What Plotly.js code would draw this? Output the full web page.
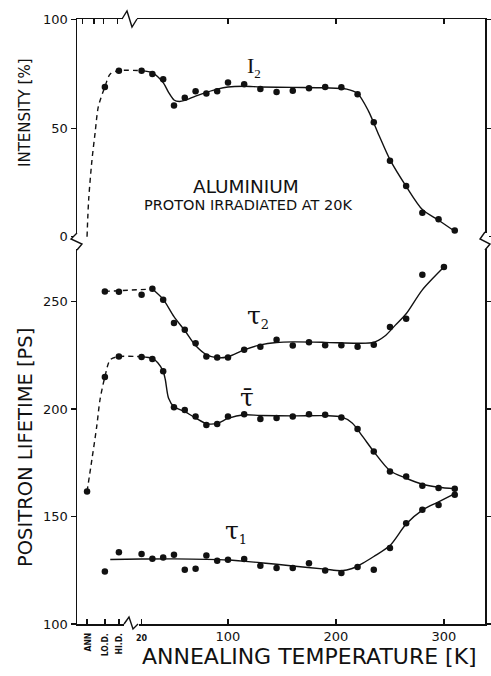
<!DOCTYPE html>
<html>
<head>
<meta charset="utf-8">
<script src="https://cdn.plot.ly/plotly-3.0.1.min.js"></script>
<style>html,body{margin:0;padding:0;background:#fff;}</style>
</head>
<body>
<div id="chart" style="width:491px;height:676px;"></div>
<script>
// ---- category / tick data ----
const specialLabels = ['ANN', 'LO.D.', 'HI.D.'];
const specialT = [-30.5, -14, -1];
const numTickVals = [20, 100, 200, 300];
const numTickText = ['<span style="font-size:8px;font-weight:bold">20</span>', '100', '200', '300'];
const topMinorT = [-35, -24, -15, -2];
const topMajorT = [100, 200, 300];
const intensityTicks = [0, 50, 100];
const lifetimeTicks = [100, 150, 200, 250];

// ---- I2 intensity [%] ----
const i2T = [-14, -1, 20, 30, 40, 50, 60, 70, 80, 90, 100, 115, 130, 145, 160, 175, 190, 205, 220, 235, 250, 265, 280, 295, 310];
const i2V = [69, 76.5, 76.5, 75, 72.5, 60.5, 64, 67, 66, 67, 71, 70.2, 68, 66.7, 67.3, 68.4, 69, 68.8, 65.6, 52.7, 35, 23.4, 11, 8, 2.8];
const i2DashT = [-30.5, -29, -26, -23, -20, -14, -9, -1, 20];
const i2DashV = [0, 17, 35, 48, 60, 69, 75, 76.5, 76.5];
const i2FitT = [20, 30, 40, 45, 50, 55, 60, 70, 80, 90, 100, 115, 130, 160, 190, 210, 220, 230, 240, 250, 265, 280, 295, 310];
const i2FitV = [76.5, 75.5, 71, 66.5, 63, 62.3, 62.8, 64.8, 66.5, 68, 69, 69.3, 69, 68.8, 68.6, 68, 66, 58, 46.5, 35.5, 23.2, 12.5, 7.6, 2.5];

// ---- tau2 [ps] ----
const t2T = [-14, -1, 20, 30, 40, 50, 60, 70, 80, 90, 100, 115, 130, 145, 160, 175, 190, 205, 220, 235, 250, 265, 280, 300];
const t2V = [254.7, 254.5, 253.1, 255.9, 250.8, 240, 236.8, 230.6, 224.4, 224, 224, 227.5, 229, 232.2, 229.5, 231.1, 229.7, 229.7, 229, 229.9, 238.1, 242, 262.4, 266];
const t2DashT = [-14, 30];
const t2DashV = [254.7, 255.8];
const t2FitT = [30, 40, 50, 60, 70, 80, 90, 100, 115, 130, 145, 160, 190, 220, 235, 245, 255, 265, 280, 300];
const t2FitV = [255.8, 251, 243, 236.5, 229.5, 225.3, 223.8, 224.3, 227.5, 229.8, 230.9, 231.2, 231, 230.6, 231, 233.8, 239, 244.3, 255.4, 266];

// ---- mean lifetime [ps] ----
const tmT = [-30.5, -14, -1, 20, 30, 40, 50, 60, 70, 80, 90, 100, 115, 130, 145, 160, 175, 190, 205, 220, 235, 250, 265, 280, 295, 310];
const tmV = [161.6, 214.9, 224.4, 224.2, 223.3, 217.5, 200.8, 199.5, 196.5, 192.5, 193, 196.5, 197.6, 195.4, 195.8, 196.5, 197.6, 197.3, 196, 190.7, 180.2, 170.9, 168.6, 164.3, 163.2, 162.9];
const tmDashT = [-30.5, -26, -21.5, -18.5, -14, -9, -1, 20];
const tmDashV = [161.6, 176.5, 192, 204.3, 214.9, 222.9, 224.4, 224.3];
const tmFitT = [20, 30, 35, 40, 42, 45, 50, 60, 70, 80, 90, 100, 115, 130, 160, 190, 205, 215, 225, 235, 250, 265, 280, 295, 310];
const tmFitV = [224.3, 223.5, 221.5, 217.5, 213.6, 205, 201, 198.8, 195.8, 193.2, 193.3, 195.6, 197.3, 197, 196.8, 196.9, 196.3, 193.5, 187, 180.2, 171.3, 167.8, 165, 163.6, 162.9];

// ---- tau1 [ps] ----
const t1T = [-14, -1, 20, 30, 40, 50, 60, 70, 80, 90, 100, 115, 130, 145, 160, 175, 190, 205, 220, 235, 250, 265, 280, 295, 310];
const t1V = [124.4, 133.4, 132.5, 130.3, 130.9, 132.2, 125.2, 125.7, 131.9, 129.4, 129.9, 130.2, 127.1, 126, 126, 128.3, 124.9, 123.7, 126.5, 125.2, 135.3, 146.9, 153.1, 155.4, 160.1];
const t1FitT = [-9, 20, 50, 100, 130, 160, 190, 205, 215, 225, 235, 250, 265, 280, 295, 310];
const t1FitV = [130, 130.2, 130.3, 129.8, 128.5, 127, 125.5, 124.8, 125.8, 128.3, 131.4, 136.5, 146.5, 153, 156.8, 160.6];

// ---- layout geometry helpers (pixel -> paper) ----
const L = 77, R = 485, T = 19, B = 624;
const W = R - L, H = B - T;
const px = x => (x - L) / W;
const py = y => (B - y) / H;
const split = py(240);

const BLACK = '#111';
const lineStyle = {color: BLACK, width: 1.4};
const markerStyle = {color: BLACK, size: 6.5};

function fit(x, y, xa, ya, dash) {
  return {x, y, xaxis: xa, yaxis: ya, type: 'scatter', mode: 'lines', hoverinfo: 'skip',
    line: Object.assign({}, lineStyle, {shape: 'spline', smoothing: 0.8, dash: dash || 'solid'}), showlegend: false};
}
function pts(x, y, xa, ya) {
  return {x, y, xaxis: xa, yaxis: ya, type: 'scatter', mode: 'markers', marker: markerStyle, showlegend: false};
}

const data = [
  fit(i2DashT, i2DashV, 'x2', 'y2', '5px,4px'),
  fit(i2FitT, i2FitV, 'x2', 'y2'),
  pts(i2T, i2V, 'x2', 'y2'),
  fit(t2DashT, t2DashV, 'x', 'y', '5px,4px'),
  fit(t2FitT, t2FitV, 'x', 'y'),
  pts(t2T, t2V, 'x', 'y'),
  fit(tmDashT, tmDashV, 'x', 'y', '5px,4px'),
  fit(tmFitT, tmFitV, 'x', 'y'),
  pts(tmT, tmV, 'x', 'y'),
  fit(t1FitT, t1FitV, 'x', 'y'),
  pts(t1T, t1V, 'x', 'y')
];

const xRange = [-39.8, 338];
const tickFont = {family: 'DejaVu Sans, sans-serif', size: 13, color: BLACK};
const axBase = {showgrid: false, zeroline: false, showline: true, linecolor: BLACK, linewidth: 1.5,
  tickcolor: BLACK, tickwidth: 1.3, tickfont: tickFont, fixedrange: true};

function zig(points) {
  return 'M ' + points.map(p => px(p[0]) + ' ' + py(p[1])).join(' L ');
}
function blank(x0, y0, x1, y1) {
  return {type: 'rect', xref: 'paper', yref: 'paper', x0: px(x0), x1: px(x1), y0: py(y0), y1: py(y1),
    fillcolor: '#fff', line: {width: 0}, layer: 'above'};
}
function zigShape(points) {
  return {type: 'path', xref: 'paper', yref: 'paper', path: zig(points), line: {color: BLACK, width: 1.4}, layer: 'above'};
}
function txt(text, x, y, font, extra) {
  return Object.assign({text, xref: 'paper', yref: 'paper', x: px(x), y: py(y), xanchor: 'center', yanchor: 'middle',
    showarrow: false, font: Object.assign({color: BLACK}, font)}, extra || {});
}

const specialAnn = specialLabels.map((lab, i) => ({
  text: lab, xref: 'x', yref: 'paper', x: specialT[i], y: py(631), xanchor: 'center', yanchor: 'top',
  textangle: -90, showarrow: false,
  font: {family: 'DejaVu Sans Condensed, DejaVu Sans, sans-serif', size: 8.5, weight: 'bold', color: BLACK}
}));

const subSpan = s => '<sub><span style="font-size:13px">' + s + '</span></sub>';

const layout = {
  width: 491, height: 676,
  margin: {l: L, r: 491 - R, t: T, b: 676 - B, pad: 0},
  paper_bgcolor: '#fff', plot_bgcolor: '#fff',
  showlegend: false,
  font: {family: 'DejaVu Sans, sans-serif', color: BLACK},
  xaxis: Object.assign({}, axBase, {domain: [0, 1], range: xRange, anchor: 'y',
    tickvals: numTickVals, ticktext: numTickText, ticks: 'inside', ticklen: 5,
    minor: {tickvals: specialT, ticks: 'inside', ticklen: 5, tickwidth: 1.3, tickcolor: BLACK, showgrid: false}}),
  xaxis2: Object.assign({}, axBase, {domain: [0, 1], range: xRange, anchor: 'y2', side: 'top',
    tickvals: topMajorT, ticks: 'inside', ticklen: 5, showticklabels: false,
    minor: {tickvals: topMinorT, ticks: 'inside', ticklen: 5, tickwidth: 1.3, tickcolor: BLACK, showgrid: false}}),
  yaxis: Object.assign({}, axBase, {domain: [0, split], range: [100, 278.6], anchor: 'x', tickvals: lifetimeTicks,
    ticks: 'outside', ticklen: 5, mirror: 'ticks'}),
  yaxis2: Object.assign({}, axBase, {domain: [split, 1], range: [-1.52, 100.3], anchor: 'x2', tickvals: intensityTicks,
    ticks: 'outside', ticklen: 5, mirror: 'ticks'}),
  shapes: [
    blank(123, 16, 137, 22), zigShape([[122, 19], [127, 11], [132, 27], [137, 19]]),
    blank(124, 621, 139, 627), zigShape([[124, 624], [129, 617], [133, 629], [138, 624]]),
    blank(73, 234, 81, 249), zigShape([[77, 233], [71, 239], [82, 244], [77, 250]]),
    blank(481, 233, 489, 249), zigShape([[485, 232], [480, 239], [490, 244], [485, 250]])
  ],
  annotations: [
    txt('INTENSITY [%]', 25, 113, {family: 'DejaVu Sans, sans-serif', size: 15}, {textangle: -90}),
    txt('POSITRON LIFETIME [PS]', 25, 448, {family: 'DejaVu Sans, sans-serif', size: 19.5}, {textangle: -90}),
    txt('ANNEALING TEMPERATURE [K]', 309, 656, {family: 'DejaVu Sans, sans-serif', size: 22}),
    txt('ALUMINIUM', 246, 186, {family: 'DejaVu Sans, sans-serif', size: 18.5}),
    txt('PROTON IRRADIATED AT 20K', 248, 205, {family: 'DejaVu Sans, sans-serif', size: 14.5}),
    txt('I' + subSpan('2'), 254, 67, {family: 'Liberation Serif, serif', size: 22}),
    txt('τ' + subSpan('2'), 258, 316, {family: 'DejaVu Serif, serif', size: 25}),
    txt('τ\u0304', 246.5, 397, {family: 'DejaVu Serif, serif', size: 25}),
    txt('τ' + subSpan('1'), 236, 531, {family: 'DejaVu Serif, serif', size: 25})
  ].concat(specialAnn)
};

Plotly.newPlot('chart', data, layout, {staticPlot: true, displayModeBar: false});
</script>
</body>
</html>
